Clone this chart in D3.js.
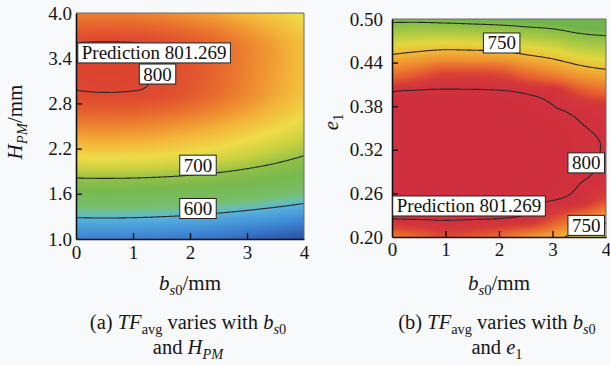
<!DOCTYPE html>
<html>
<head>
<meta charset="utf-8">
<script src="https://cdn.jsdelivr.net/npm/d3@7"></script>
</head>
<body style="margin:0;background:#f8f9fb">
<svg id="chart" width="610" height="365" style="display:block"></svg>
<script>
// grid positions the surface values were read at
const bs0Grid = [0, 0.5, 1, 1.5, 2, 2.5, 3, 3.5, 4];
const hpmGrid = [1.0, 1.5, 2.0, 2.5, 3.0, 3.5, 4.0];
const e1Grid = [0.200, 0.225, 0.250, 0.275, 0.300, 0.325, 0.350, 0.375, 0.400, 0.425, 0.450, 0.475, 0.500];

// (a) TFavg, one row per H_PM value, across bs0Grid
const tfA = [
    [551.0, 552.0, 551.0, 548.2, 543.4, 536.7, 528.0, 517.5, 505.0],
    [641.3, 642.0, 641.3, 639.1, 635.6, 630.6, 624.1, 616.3, 607.0],
    [734.0, 735.0, 734.0, 731.2, 726.4, 719.7, 711.0, 700.5, 688.0],
    [781.1, 782.0, 781.1, 778.3, 773.7, 767.3, 759.0, 748.9, 737.0],
    [800.2, 800.5, 800.3, 799.0, 795.5, 789.5, 781.0, 770.5, 758.0],
    [800.9, 801.2, 801.0, 799.8, 796.5, 791.0, 782.5, 772.5, 760.0],
    [782.1, 783.0, 782.1, 779.5, 775.1, 769.0, 761.1, 751.4, 740.0]
];

// (b) TFavg, one row per e1 value, across bs0Grid
const tfB = [
    [775.83, 783.72, 791.71, 788.27, 781.85, 768.10, 756.21, 742.31, 726.10],
    [800.10, 800.24, 800.29, 800.21, 800.06, 799.80, 791.82, 776.03, 758.10],
    [800.60, 800.75, 800.80, 800.73, 800.58, 800.34, 800.03, 799.67, 789.92],
    [800.93, 801.08, 801.13, 801.07, 800.93, 800.69, 800.39, 800.03, 799.69],
    [801.09, 801.24, 801.29, 801.23, 801.11, 800.87, 800.57, 800.22, 799.90],
    [801.07, 801.22, 801.27, 801.22, 801.11, 800.88, 800.58, 800.23, 799.94],
    [800.87, 801.03, 801.08, 801.04, 800.93, 800.71, 800.42, 800.07, 799.81],
    [800.50, 800.66, 800.71, 800.68, 800.58, 800.37, 800.08, 799.74, 799.50],
    [799.95, 800.12, 800.17, 800.14, 800.06, 799.85, 799.56, 789.88, 781.82],
    [778.48, 786.20, 792.87, 792.73, 791.52, 782.15, 772.71, 761.69, 755.10],
    [750.29, 755.31, 759.08, 758.35, 756.87, 749.78, 742.77, 733.33, 728.22],
    [721.92, 724.24, 725.11, 723.78, 722.05, 717.24, 712.65, 704.79, 701.16],
    [693.37, 693.00, 690.97, 689.05, 687.05, 684.52, 682.36, 676.08, 673.92]
];

const bs0Ticks = [0, 1, 2, 3, 4];
const hpmTicks = [1.0, 1.6, 2.2, 2.8, 3.4, 4.0];
const e1Ticks = [0.20, 0.26, 0.32, 0.38, 0.44, 0.50];
const levelsA = [600, 700, 800];
const levelsB = [700, 750, 800];
const predText = 'Prediction 801.269';

const FONT = 'Liberation Serif';
const FONT_CSS = '"Liberation Serif", serif';
const NB = '\u00a0';
const svg = d3.select('#chart').attr('font-family', FONT).style('font-family', FONT_CSS);
const defs = svg.append('defs');

// monotone (Steffen) cubic through the read values
function steffen(xs, ys) {
    const n = xs.length, h = [], s = [], m = new Array(n);
    for (let i = 0; i < n - 1; i++) { h[i] = xs[i + 1] - xs[i]; s[i] = (ys[i + 1] - ys[i]) / h[i]; }
    for (let i = 1; i < n - 1; i++) {
        const p = (s[i - 1] * h[i] + s[i] * h[i - 1]) / (h[i - 1] + h[i]);
        m[i] = (Math.sign(s[i - 1]) + Math.sign(s[i])) * Math.min(Math.abs(s[i - 1]), Math.abs(s[i]), 0.5 * Math.abs(p));
    }
    const end = (s0, s1, h0, h1) => {
        const p = s0 * (1 + h0 / (h0 + h1)) - s1 * h0 / (h0 + h1);
        if (p * s0 <= 0) return 0;
        return Math.abs(p) > 2 * Math.abs(s0) ? 2 * s0 : p;
    };
    m[0] = end(s[0], s[1], h[0], h[1]);
    m[n - 1] = end(s[n - 2], s[n - 3], h[n - 2], h[n - 3]);
    return v => {
        v = Math.max(xs[0], Math.min(xs[n - 1], v));
        let i = Math.min(n - 2, Math.max(0, d3.bisectRight(xs, v) - 1));
        const t = (v - xs[i]) / h[i], t2 = t * t, t3 = t2 * t;
        return (2 * t3 - 3 * t2 + 1) * ys[i] + (t3 - 2 * t2 + t) * h[i] * m[i]
            + (-2 * t3 + 3 * t2) * ys[i + 1] + (t3 - t2) * h[i] * m[i + 1];
    };
}

function rich(parts, size) {
    const t = svg.append('text')
        .attr('text-anchor', 'middle')
        .attr('font-family', FONT)
        .style('font-family', FONT_CSS)
        .attr('font-size', size)
        .attr('fill', '#161616');
    let shift = 0;
    parts.forEach(d => {
        const target = d.sub ? 0.24 * size : 0;
        t.append('tspan')
            .attr('dy', target - shift)
            .attr('font-style', d.it ? 'italic' : null)
            .attr('font-size', d.sub ? size * 0.7 : null)
            .text(d.t.replace(/ /g, NB));
        shift = target;
    });
    return t;
}

function drawPanel(p) {
    const g = svg.append('g');
    const x = d3.scaleLinear().domain([0, 4]).range([p.left, p.right]);
    const y = d3.scaleLinear().domain(p.yDomain).range([p.bottom, p.top]);
    const rowFns = p.rows.map(r => steffen(bs0Grid, r));
    const colAt = xv => steffen(p.yGrid, rowFns.map(f => f(xv)));
    const color = d3.scaleLinear()
        .domain(p.stops.map(d => d[0]))
        .range(p.stops.map(d => d[1]))
        .clamp(true);

    // coloured surface
    const w = p.right - p.left, h = p.bottom - p.top;
    const canvas = document.createElement('canvas');
    canvas.width = w; canvas.height = h;
    const ctx = canvas.getContext('2d');
    const img = ctx.createImageData(w, h);
    for (let i = 0; i < w; i++) {
        const f = colAt(x.invert(p.left + i + 0.5));
        for (let j = 0; j < h; j++) {
            const c = d3.rgb(color(f(y.invert(p.top + j + 0.5))));
            const k = (j * w + i) * 4;
            img.data[k] = c.r; img.data[k + 1] = c.g; img.data[k + 2] = c.b; img.data[k + 3] = 255;
        }
    }
    ctx.putImageData(img, 0, 0);
    g.append('image')
        .attr('x', p.left).attr('y', p.top)
        .attr('width', w).attr('height', h)
        .attr('preserveAspectRatio', 'none')
        .attr('href', canvas.toDataURL());

    // contour lines, sampled one step past each edge and clipped
    defs.append('clipPath').attr('id', 'clip-' + p.id)
        .append('rect').attr('x', p.left).attr('y', p.top).attr('width', w).attr('height', h);
    const nx = 203, ny = 153;
    const y0 = p.yDomain[0];
    const dx = 4 / (nx - 3), dy = (p.yDomain[1] - y0) / (ny - 3);
    const cols = d3.range(nx).map(i => colAt(-dx + i * dx));
    const values = new Array(nx * ny);
    for (let j = 0; j < ny; j++) {
        for (let i = 0; i < nx; i++) values[j * nx + i] = cols[i](y0 - dy + j * dy);
    }
    const contours = d3.contours().size([nx, ny]).thresholds(p.levels)(values);
    const proj = d3.geoTransform({
        point: function (px, py) { this.stream.point(x(-dx + px * dx), y(y0 - dy + py * dy)); }
    });
    g.append('g').attr('clip-path', 'url(#clip-' + p.id + ')')
        .selectAll('path')
        .data(contours)
        .join('path')
        .attr('d', d3.geoPath(proj))
        .attr('fill', 'none')
        .attr('stroke', '#2a2a2a')
        .attr('stroke-width', 1.1);

    // frame
    g.append('path')
        .attr('d', `M${p.left},${p.top}H${p.right}V${p.bottom}`)
        .attr('fill', 'none').attr('stroke', '#6a6a6a').attr('stroke-width', 1);

    const xAxis = g.append('g')
        .attr('transform', `translate(0,${p.bottom})`)
        .call(d3.axisBottom(x).tickValues(bs0Ticks).tickFormat(d3.format('d'))
            .tickSizeInner(-6).tickSizeOuter(0).tickPadding(p.xPad));
    const yAxis = g.append('g')
        .attr('transform', `translate(${p.left},0)`)
        .call(d3.axisLeft(y).tickValues(p.yTicks).tickFormat(d3.format(p.yFormat))
            .tickSizeInner(-6).tickSizeOuter(0).tickPadding(p.yPad));
    [xAxis, yAxis].forEach(a => {
        a.attr('font-family', FONT).attr('font-size', 19);
        a.select('.domain').attr('stroke', '#111').attr('stroke-width', 1.6);
        a.selectAll('.tick line').attr('stroke', '#111').attr('stroke-width', 1.4);
        a.selectAll('.tick text').attr('fill', '#161616').attr('font-family', FONT).style('font-family', FONT_CSS);
    });
    xAxis.selectAll('.tick line').filter(d => d === 0 || d === 4).remove();
    yAxis.selectAll('.tick line').filter((d, i, n) => i === 0 || i === n.length - 1).remove();

    // white value boxes
    p.notes.forEach(n => {
        const ng = g.append('g');
        const cx = x(n.x), cy = y(n.y);
        const t = ng.append('text')
            .attr('x', cx).attr('y', cy + 6.5)
            .attr('text-anchor', 'middle')
            .attr('font-family', FONT)
            .style('font-family', FONT_CSS)
            .attr('font-size', 19).attr('fill', '#111')
            .text(n.text);
        const bb = t.node().getBBox();
        ng.insert('rect', 'text')
            .attr('x', bb.x - 4).attr('y', cy - 10)
            .attr('width', bb.width + 8).attr('height', 20)
            .attr('fill', '#fff').attr('stroke', '#222').attr('stroke-width', 1);
    });

    const cx = (p.left + p.right) / 2;
    rich([{t: 'b', it: true}, {t: 's', it: true, sub: true}, {t: '0', sub: true}, {t: '/mm'}], 21)
        .attr('x', cx).attr('y', 290);
    rich(p.cap1, 20.5).attr('x', cx - 2).attr('y', 329);
    rich(p.cap2, 20.5).attr('x', cx - 2).attr('y', 354);
    rich(p.yTitle, 21).attr('transform', `translate(${p.yTitleX},122) rotate(-90)`);
}

drawPanel({
    id: 'a', left: 76, right: 304, top: 13, bottom: 239,
    yDomain: [1, 4], yGrid: hpmGrid, rows: tfA, levels: levelsA,
    yTicks: hpmTicks, yFormat: '.1f', yPad: 4, xPad: 7,
    stops: [[505, '#2b4d9e'], [550, '#3a7ecf'], [590, '#50a8de'], [603, '#5cb6d2'], [614, '#6cc0a4'],
        [628, '#76be6c'], [670, '#78b94e'], [700, '#8fc046'], [722, '#c6d040'], [745, '#eedb48'],
        [765, '#f3b53a'], [780, '#ee8a30'], [792, '#e6632e'], [801, '#dc4430']],
    notes: [{text: predText, x: 1.37, y: 3.47}, {text: '800', x: 1.43, y: 3.19},
        {text: '700', x: 2.14, y: 1.98}, {text: '600', x: 2.14, y: 1.405}],
    cap1: [{t: '(a) '}, {t: 'TF', it: true}, {t: 'avg', sub: true}, {t: ' varies with '},
        {t: 'b', it: true}, {t: 's', it: true, sub: true}, {t: '0', sub: true}],
    cap2: [{t: 'and '}, {t: 'H', it: true}, {t: 'PM', it: true, sub: true}],
    yTitle: [{t: 'H', it: true}, {t: 'PM', it: true, sub: true}, {t: '/mm'}], yTitleX: 22
});

drawPanel({
    id: 'b', left: 392, right: 606, top: 19, bottom: 237,
    yDomain: [0.2, 0.5], yGrid: e1Grid, rows: tfB, levels: levelsB,
    yTicks: e1Ticks, yFormat: '.2f', yPad: 9, xPad: 6,
    stops: [[690, '#6fb54c'], [715, '#a9c942'], [735, '#e2d73e'], [750, '#f2b836'], [770, '#ee8c30'],
        [787, '#e65c30'], [796, '#d53a38'], [801, '#cf2f3e']],
    notes: [{text: '750', x: 2.05, y: 0.467}, {text: '800', x: 3.63, y: 0.302},
        {text: predText, x: 1.44, y: 0.2427}, {text: '750', x: 3.63, y: 0.216}],
    cap1: [{t: '(b) '}, {t: 'TF', it: true}, {t: 'avg', sub: true}, {t: ' varies with '},
        {t: 'b', it: true}, {t: 's', it: true, sub: true}, {t: '0', sub: true}],
    cap2: [{t: 'and '}, {t: 'e', it: true}, {t: '1', sub: true}],
    yTitle: [{t: 'e', it: true}, {t: '1', sub: true}], yTitleX: 338
});
</script>
</body>
</html>
